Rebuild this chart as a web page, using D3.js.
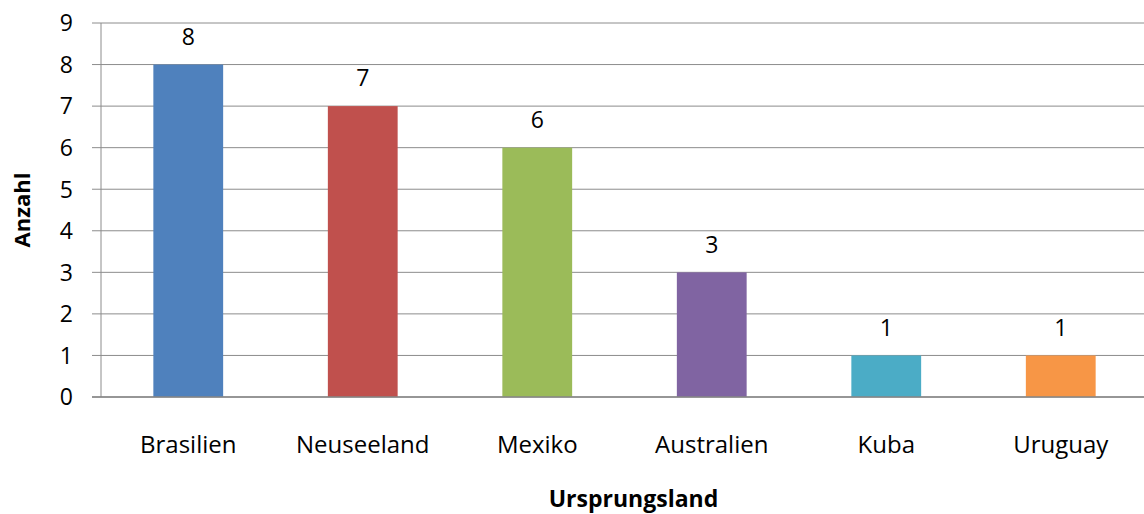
<!DOCTYPE html>
<html>
<head>
<meta charset="utf-8">
<script src="https://cdn.jsdelivr.net/npm/d3@7"></script>
<style>
  body { margin: 0; background: #fff; }
  svg text { font-family: "Open Sans", sans-serif; fill: #000; }
</style>
</head>
<body>
<div id="chart"></div>
<script>
const categories = ["Brasilien", "Neuseeland", "Mexiko", "Australien", "Kuba", "Uruguay"];
const counts = [8, 7, 6, 3, 1, 1];
const colors = ["#4F81BD", "#C0504D", "#9BBB59", "#8064A2", "#4BACC6", "#F79646"];
const yTicks = [0, 1, 2, 3, 4, 5, 6, 7, 8, 9];

const width = 1144;
const height = 514;
const plotLeft = 101, plotRight = 1148, plotTop = 23, plotBottom = 397;

const svg = d3.select("#chart")
    .append("svg")
    .attr("width", width)
    .attr("height", height);

const x = d3.scaleBand()
    .domain(categories)
    .range([plotLeft, plotRight])
    .paddingInner(0.6)
    .paddingOuter(0.3);

const y = d3.scaleLinear()
    .domain([0, 9])
    .range([plotBottom, plotTop]);

// gridlines + left ticks
svg.append("g")
    .selectAll("line")
    .data(yTicks)
    .join("line")
    .attr("x1", plotLeft - 9)
    .attr("x2", width)
    .attr("y1", d => y(d))
    .attr("y2", d => y(d))
    .attr("stroke", "#8c8c8c")
    .attr("stroke-width", 1);

svg.append("g")
    .selectAll("text")
    .data(yTicks)
    .join("text")
    .attr("x", 73)
    .attr("y", d => y(d))
    .attr("dy", "0.36em")
    .attr("text-anchor", "end")
    .attr("font-size", "23px")
    .text(d => d);

// y axis line
svg.append("line")
    .attr("x1", plotLeft).attr("x2", plotLeft)
    .attr("y1", plotTop).attr("y2", plotBottom)
    .attr("stroke", "#8c8c8c");

// bars
svg.append("g")
    .selectAll("rect")
    .data(counts)
    .join("rect")
    .attr("x", (d, i) => x(categories[i]))
    .attr("y", d => y(d))
    .attr("width", x.bandwidth())
    .attr("height", d => y(0) - y(d))
    .attr("fill", (d, i) => colors[i]);

// bottom axis line
svg.append("line")
    .attr("x1", plotLeft - 9).attr("x2", width)
    .attr("y1", plotBottom).attr("y2", plotBottom)
    .attr("stroke", "#868686")
    .attr("stroke-width", 1.5);

// value labels
svg.append("g")
    .selectAll("text")
    .data(counts)
    .join("text")
    .attr("x", (d, i) => x(categories[i]) + x.bandwidth() / 2)
    .attr("y", d => y(d) - 28)
    .attr("dy", "0.36em")
    .attr("text-anchor", "middle")
    .attr("font-size", "23px")
    .text(d => d);

// category labels
svg.append("g")
    .selectAll("text")
    .data(categories)
    .join("text")
    .attr("x", d => x(d) + x.bandwidth() / 2)
    .attr("y", 444)
    .attr("dy", "0.36em")
    .attr("text-anchor", "middle")
    .attr("font-size", "24px")
    .text(d => d);

// axis titles
svg.append("text")
    .attr("transform", "translate(22,210) rotate(-90)")
    .attr("text-anchor", "middle")
    .attr("dy", "0.36em")
    .attr("font-size", "22px")
    .attr("font-weight", "bold")
    .text("Anzahl");

svg.append("text")
    .attr("x", (plotLeft + plotRight) / 2 + 9)
    .attr("y", 499)
    .attr("dy", "0.36em")
    .attr("text-anchor", "middle")
    .attr("font-size", "23px")
    .attr("font-weight", "bold")
    .text("Ursprungsland");
</script>
</body>
</html>
